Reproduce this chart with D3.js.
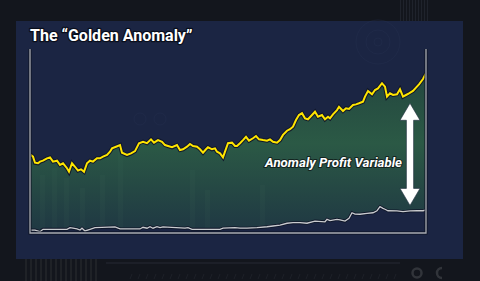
<!DOCTYPE html>
<html>
<head>
<meta charset="utf-8">
<script src="https://cdn.jsdelivr.net/npm/d3@7"></script>
<style>
  html, body { margin: 0; padding: 0; background: #13161d; }
  svg { display: block; }
</style>
</head>
<body>
<script>
// ---- data ----
const title = "The \u201CGolden Anomaly\u201D";
const annotation = "Anomaly Profit Variable";

const goldT = [0,3,5,8,10,13,17,20,23,27,30,33,37,39,42,45,48,51,54,57,60,63,67,70,73,77,80,82,86,90,92,97,101,105,109,113,117,121,124,128,132,135,138,142,147,150,153,157,160,163,167,170,173,176,178,182,185,187,190,193,195,198,202,205,207,210,213,216,219,223,226,229,233,237,240,243,247,250,253,257,260,263,266,269,272,275,278,282,285,288,292,295,298,300,303,307,309,313,316,319,323,326,329,333,335,338,342,345,348,352,355,357,360,363,367,370,373,376,379,383,386,389,393,396];
const goldV = [42.8,41.5,38.2,37.9,38.8,39.3,40.6,41.1,38.8,39.3,37.0,37.9,35.2,33.3,37.9,36.0,33.9,34.6,33.3,37.9,39.3,38.8,40.6,40.6,41.5,42.4,44.2,46.0,46.9,47.8,43.6,42.4,43.3,44.5,48.8,49.6,48.8,50.9,49.1,50.5,49.6,47.8,47.3,46.6,47.8,45.1,45.5,46.9,48.4,47.3,46.9,45.5,43.6,45.5,46.6,45.5,46.0,44.2,43.3,41.1,44.2,48.8,49.1,47.3,47.3,48.8,50.5,52.3,50.2,51.5,52.7,50.9,50.5,50.2,50.9,49.6,49.1,50.5,53.3,55.6,56.4,57.8,61.4,64.1,65.1,62.3,61.8,64.1,65.9,63.2,64.1,61.8,63.2,62.3,64.5,66.8,68.6,66.3,67.8,67.4,69.6,69.9,70.5,71.4,74.1,77.2,75.4,77.7,78.6,81.4,79.5,74.1,75.9,75.0,75.4,78.1,74.1,75.0,75.9,77.2,79.0,80.8,83.7,86.8];

const baseT = [0,5,10,13,37,40,43,47,50,52,55,60,65,85,90,110,113,117,120,123,127,130,133,155,158,162,190,193,205,210,217,227,237,243,250,257,263,270,277,285,295,297,300,307,310,315,319,322,325,330,337,343,347,350,353,355,358,367,373,380,387,393,396];
const baseV = [1.6,1.6,0.7,2.0,2.0,2.9,2.6,2.2,1.6,2.6,1.1,2.0,2.9,3.3,2.2,2.2,3.1,2.6,3.4,2.6,3.4,2.9,3.3,2.6,2.9,2.0,2.0,2.6,2.9,2.6,2.6,2.9,3.4,3.8,4.3,5.3,5.6,5.6,5.3,6.5,6.1,7.4,6.7,7.4,7.1,6.5,8.0,11.0,10.3,10.2,10.7,11.0,12.1,14.3,13.4,12.9,12.1,12.0,11.6,12.0,12.1,12.1,12.5];

const xDomain = [0, 396];
const yDomain = [0, 100];
const arrowT = 380, arrowTop = 70.5, arrowBottom = 15;

// ---- layout ----
const W = 480, H = 281;
const panel = {x: 16, y: 21, w: 447, h: 238};
const plot = {l: 30, r: 426, t: 49, b: 233};

const svg = d3.select("body").append("svg").attr("width", W).attr("height", H);
const defs = svg.append("defs");

// background
svg.append("rect").attr("width", W).attr("height", H).attr("fill", "#13161d");
const deco = svg.append("g").attr("opacity", 0.55);
deco.selectAll("rect.st").data(d3.range(25, 96, 5)).enter().append("rect")
  .attr("x", d => d).attr("y", 259).attr("width", 2).attr("height", 22).attr("fill", "#2a2c30");
deco.selectAll("rect.tr").data(d3.range(400, 428, 3)).enter().append("rect")
  .attr("x", d => d).attr("y", 0).attr("width", 1).attr("height", 21).attr("fill", "#2a2f3a");
deco.append("line").attr("x1", 106).attr("x2", 400).attr("y1", 263).attr("y2", 263).attr("stroke", "#2b2f38").attr("stroke-width", 1.5);
deco.selectAll("line.tk").data(d3.range(130, 400, 8)).enter().append("line")
  .attr("x1", d => d).attr("x2", d => d + 2).attr("y1", 279).attr("y2", 274).attr("stroke", "#262a32");
deco.append("circle").attr("cx", 417).attr("cy", 273).attr("r", 4.5).attr("fill", "none").attr("stroke", "#4a4d52").attr("stroke-width", 2.5);
deco.append("path").attr("d", "M442,268 A5,5 0 1 0 442,278").attr("fill", "none").attr("stroke", "#4a4d52").attr("stroke-width", 2.5);

// panel
svg.append("rect").attr("x", panel.x).attr("y", panel.y).attr("width", panel.w).attr("height", panel.h)
  .attr("fill", "#1b2543");

// faint radial decorations inside panel
const pd = svg.append("g").attr("fill", "none").attr("stroke", "#263150").attr("stroke-width", 0.8).attr("opacity", 0.5);
pd.append("circle").attr("cx", 378).attr("cy", 42).attr("r", 22);
pd.append("circle").attr("cx", 378).attr("cy", 42).attr("r", 12);
pd.append("circle").attr("cx", 378).attr("cy", 42).attr("r", 4);
pd.append("circle").attr("cx", 140).attr("cy", 119).attr("r", 6);
pd.append("circle").attr("cx", 160).attr("cy", 119).attr("r", 6);

// scales
const x = d3.scaleLinear().domain(xDomain).range([plot.l, plot.r]);
const y = d3.scaleLinear().domain(yDomain).range([plot.b, plot.t]);

const gold = goldT.map((t, i) => ({t, v: goldV[i]}));
const base = baseT.map((t, i) => ({t, v: baseV[i]}));
const baseAt = t => {
  const i = d3.bisector(d => d.t).left(base, t);
  if (i <= 0) return base[0].v;
  if (i >= base.length) return base[base.length - 1].v;
  const a = base[i - 1], b = base[i];
  return a.v + (b.v - a.v) * (t - a.t) / (b.t - a.t);
};

// gradient fill
const grad = defs.append("linearGradient").attr("id", "fillg")
  .attr("gradientUnits", "userSpaceOnUse").attr("x1", 0).attr("x2", 0).attr("y1", 70).attr("y2", 233);
grad.append("stop").attr("offset", "0%").attr("stop-color", "#23463f");
grad.append("stop").attr("offset", "45%").attr("stop-color", "#2b5945");
grad.append("stop").attr("offset", "100%").attr("stop-color", "#1f3743");

const areaPts = gold.map(d => ({t: d.t, top: d.v, bot: baseAt(d.t)}));
svg.append("path").datum(areaPts)
  .attr("d", d3.area().x(d => x(d.t)).y0(d => y(d.bot)).y1(d => y(d.top)))
  .attr("fill", "url(#fillg)");

// faint vertical bars inside the fill (background texture)
const tex = svg.append("g").attr("opacity", 0.07);
[[40, 175], [52, 168], [64, 178], [80, 188], [100, 175], [118, 150], [190, 170], [205, 190], [260, 185]].forEach(([bx, by]) => {
  tex.append("rect").attr("x", bx).attr("y", by).attr("width", 5).attr("height", 228 - by).attr("fill", "#4f7d68");
});

// lines
const line = d3.line().x(d => x(d.t)).y(d => y(d.v));
svg.append("path").datum(base).attr("d", line).attr("fill", "none")
  .attr("stroke", "#0f1628").attr("stroke-width", 3).attr("stroke-linejoin", "miter");
svg.append("path").datum(base).attr("d", line).attr("fill", "none")
  .attr("stroke", "#c9cbcf").attr("stroke-width", 1.3).attr("stroke-linejoin", "miter");

svg.append("path").datum(gold).attr("d", line).attr("fill", "none")
  .attr("stroke", "#10172b").attr("stroke-width", 4).attr("stroke-linejoin", "miter");
svg.append("path").datum(gold).attr("d", line).attr("fill", "none")
  .attr("stroke", "#ffe500").attr("stroke-width", 2).attr("stroke-linejoin", "miter");

// frame (left, bottom, right)
svg.append("path")
  .attr("d", `M${plot.l},${plot.t} V${plot.b} H${plot.r} V${plot.t}`)
  .attr("fill", "none").attr("stroke", "#0c1222").attr("stroke-width", 3);
svg.append("path")
  .attr("d", `M${plot.l},${plot.t} V${plot.b} H${plot.r} V${plot.t}`)
  .attr("fill", "none").attr("stroke", "#a9adb5").attr("stroke-width", 1.3);

// double-headed arrow
const ax = x(arrowT), aTop = y(arrowTop), aBot = y(arrowBottom);
const hw = 10, hh = 17, sw = 3.6;
const arrowPath = [
  [ax, aTop], [ax + hw, aTop + hh], [ax + sw, aTop + hh], [ax + sw, aBot - hh],
  [ax + hw, aBot - hh], [ax, aBot], [ax - hw, aBot - hh], [ax - sw, aBot - hh],
  [ax - sw, aTop + hh], [ax - hw, aTop + hh]
];
svg.append("path").attr("d", d3.line()(arrowPath) + "Z").attr("fill", "#ffffff")
  .attr("stroke", "#1b2a3a").attr("stroke-width", 0.6);

// texts
svg.append("text").attr("x", 30).attr("y", 40.5).text(title)
  .attr("font-family", "Roboto, 'Noto Sans', sans-serif").attr("font-weight", 700).attr("font-size", 16)
  .attr("fill", "#ffffff").attr("stroke", "#0a0f1c").attr("stroke-width", 2.5)
  .attr("paint-order", "stroke").attr("stroke-linejoin", "round");

svg.append("text").attr("x", 265).attr("y", 167).text(annotation)
  .attr("font-family", "Roboto, 'Noto Sans', sans-serif").attr("font-weight", 700).attr("font-style", "italic")
  .attr("font-size", 13).attr("fill", "#ffffff").attr("textLength", 137).attr("lengthAdjust", "spacingAndGlyphs")
  .attr("stroke", "#13241f").attr("stroke-width", 2).attr("paint-order", "stroke").attr("stroke-linejoin", "round");
</script>
</body>
</html>
